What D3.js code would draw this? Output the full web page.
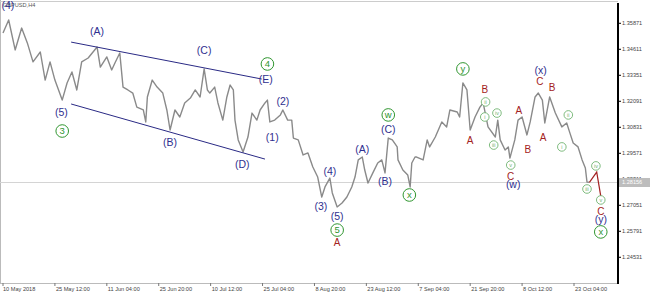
<!DOCTYPE html>
<html>
<head>
<meta charset="utf-8">
<script src="https://cdn.jsdelivr.net/npm/d3@7"></script>
<style>
  html, body { margin: 0; padding: 0; background: #fff; }
  svg { display: block; font-family: "Liberation Sans", Arial, sans-serif; }
  .tick-lab { font-size: 5.6px; fill: #444; }
</style>
</head>
<body>
<div id="chart"></div>
<script>
// GBPUSD H4 price path: [bar index, price]
const priceBars = [0,7,15,23,30,37,46,52,58,64,73,79,85,91,97,105,116,120,128,134,138,144,148,154,160,165,173,176,178,184,
  190,197,202,206,212,218,224,231,237,243,248,252,255,261,265,271,276,280,284,286,290,296,302,307,313,317,323,326,329,335,
  342,345,351,356,358,364,370,376,382,388,393,397,403,406,412,418,424,430,434,438,443,446,450,456,462,467,471,475,480,486,
  487,493,499,502,504,508,510,518,523,526,533,541,547,551,560,563,567,572,576,582,588,592,598,607,610,613,619,623,625,631,
  635,640,646,650,656,660,665,668,674,681,689,695,699,703,709,714,718,720,723];
const priceVals = [1.3540,1.3603,1.3458,1.3564,1.3492,1.3400,1.3448,1.3312,1.3400,1.3312,1.3215,1.3298,1.3351,1.3264,1.3400,1.3419,1.3472,1.3375,1.3424,1.3361,1.3395,1.3443,1.3278,1.3264,1.3249,1.3181,1.3167,1.3109,1.3230,1.3312,
  1.3278,1.3249,1.3167,1.3070,1.3167,1.3133,1.3201,1.3225,1.3264,1.3230,1.3366,1.3264,1.3249,1.3278,1.3201,1.3118,1.3230,1.3288,1.3264,1.3118,1.3022,1.2963,1.3036,1.3152,1.3118,1.3167,1.3201,1.3215,1.3109,1.3118,
  1.3143,1.3167,1.3118,1.3118,1.3031,1.3022,1.2949,1.2959,1.2891,1.2842,1.2745,1.2794,1.2837,1.2765,1.2697,1.2716,1.2745,1.2794,1.2842,1.2925,1.2939,1.2876,1.2813,1.2862,1.2910,1.2925,1.2862,1.3031,1.3022,1.2988,
  1.2925,1.2876,1.2852,1.2794,1.2910,1.2939,1.2939,1.2925,1.3022,1.2988,1.3036,1.3109,1.3085,1.3167,1.3157,1.3133,1.3298,1.3264,1.3070,1.3133,1.3181,1.3201,1.3085,1.3036,1.3118,1.3022,1.2973,1.2988,1.2934,1.3022,
  1.3118,1.3133,1.3046,1.3109,1.3230,1.3249,1.3215,1.3104,1.3230,1.3152,1.3085,1.3104,1.3055,1.3007,1.2988,1.2925,1.2886,1.2818,1.2816];

const currentPrice = 1.28156;

// projected wave (iv)-(v)
const projBars = [723, 732, 737];
const projVals = [1.2816, 1.2866, 1.2750];

// triangle channel: [bar0, price0, bar1, price1]
const channelLines = [
  [84, 1.3496, 319, 1.3317],
  [84, 1.3196, 323, 1.2929]
];

const yTicks = [1.35871, 1.34611, 1.33351, 1.32091, 1.30831, 1.29571, 1.28311, 1.27051, 1.25791, 1.24531];
const xTickBars = [0, 64, 128, 192, 256, 320, 384, 448, 512, 576, 640, 704];
const xTickLabels = ['10 May 2018', '25 May 12:00', '11 Jun 04:00', '25 Jun 20:00', '10 Jul 12:00', '25 Jul 04:00',
  '8 Aug 20:00', '23 Aug 12:00', '7 Sep 04:00', '21 Sep 20:00', '8 Oct 12:00', '23 Oct 04:00'];

// wave labels: [text, bar, price]
const navyLabels = [
  ['(4)', 6, 1.3676], ['(A)', 116, 1.3550], ['(C)', 248, 1.3458], ['(E)', 324, 1.3317], ['(5)', 72, 1.3157],
  ['(B)', 206, 1.3012], ['(D)', 295, 1.2905], ['(2)', 345, 1.3211], ['(1)', 332, 1.3036], ['(4)', 403, 1.2871],
  ['(3)', 392, 1.2702], ['(5)', 412, 1.2653], ['(A)', 443, 1.2978], ['(B)', 471, 1.2823], ['(C)', 475, 1.3075],
  ['(x)', 663, 1.3361], ['(w)', 629, 1.2808], ['(y)', 737, 1.2639]
];
const greenCircles = [
  ['3', 73, 1.3065], ['4', 326, 1.3390], ['5', 412, 1.2585], ['w', 475, 1.3143],
  ['x', 501, 1.2755], ['y', 567, 1.3366], ['x', 737, 1.2576]
];
const redLabels = [
  ['A', 412, 1.2527], ['A', 576, 1.3022], ['B', 594, 1.3269], ['C', 626, 1.2847], ['A', 636, 1.3167],
  ['B', 647, 1.2978], ['C', 662, 1.3307], ['B', 677, 1.3278], ['A', 666, 1.3036], ['C', 737, 1.2677]
];
const minorCircles = [
  ['ii', 595, 1.3206], ['i', 594, 1.3133], ['iv', 609, 1.3152], ['iii', 605, 1.2997], ['v', 626, 1.2900],
  ['ii', 697, 1.3143], ['i', 689, 1.2988], ['iii', 720, 1.2784], ['iv', 731, 1.2896], ['v', 737, 1.2731]
];

const W = 650, H = 294;
const plotR = 618, plotB = 283;
const NAVY = '#2f2f8f', GREEN = '#2f962f', RED = '#a32222', LGREEN = '#6fb36f';

const x = d3.scaleLinear().domain([0, 704]).range([3, 574]);
const y = d3.scaleLinear().domain([1.23285, 1.37]).range([plotB, 0]);

const svg = d3.select('#chart').append('svg').attr('width', W).attr('height', H);

// frame
svg.append('line').attr('x1', 0.5).attr('x2', 0.5).attr('y1', 0).attr('y2', plotB).attr('stroke', '#bbb');
svg.append('line').attr('x1', 0).attr('x2', plotR).attr('y1', 1.5).attr('y2', 1.5).attr('stroke', '#ccc');
svg.append('line').attr('x1', 0).attr('x2', plotR).attr('y1', plotB + 0.5).attr('y2', plotB + 0.5).attr('stroke', '#bbb');

// current price line
svg.append('line').attr('x1', 0).attr('x2', plotR).attr('y1', y(currentPrice)).attr('y2', y(currentPrice))
  .attr('stroke', '#d4d4d4').attr('stroke-width', 1);

// price
const pts = priceBars.map((b, i) => [b, priceVals[i]]);
svg.append('path').datum(pts)
  .attr('d', d3.line().x(d => x(d[0])).y(d => y(d[1])))
  .attr('fill', 'none').attr('stroke', '#8a8a8a').attr('stroke-width', 1.4).attr('stroke-linejoin', 'round');

// channel
svg.selectAll('line.chan').data(channelLines).join('line').attr('class', 'chan')
  .attr('x1', d => x(d[0])).attr('y1', d => y(d[1])).attr('x2', d => x(d[2])).attr('y2', d => y(d[3]))
  .attr('stroke', '#2a2a85').attr('stroke-width', 1);

// projection
svg.append('path').datum(projBars.map((b, i) => [b, projVals[i]]))
  .attr('d', d3.line().x(d => x(d[0])).y(d => y(d[1])))
  .attr('fill', 'none').attr('stroke', RED).attr('stroke-width', 1.2);

// labels
svg.selectAll('text.navy').data(navyLabels).join('text').attr('class', 'navy')
  .attr('x', d => x(d[1])).attr('y', d => y(d[2])).attr('dy', '0.36em')
  .attr('text-anchor', 'middle').attr('font-size', 10.5).attr('fill', NAVY).text(d => d[0]);

svg.selectAll('text.red').data(redLabels).join('text').attr('class', 'red')
  .attr('x', d => x(d[1])).attr('y', d => y(d[2])).attr('dy', '0.36em')
  .attr('text-anchor', 'middle').attr('font-size', 10).attr('fill', RED).text(d => d[0]);

const gc = svg.selectAll('g.gc').data(greenCircles).join('g').attr('class', 'gc')
  .attr('transform', d => `translate(${x(d[1])},${y(d[2])})`);
gc.append('circle').attr('r', 6.3).attr('fill', 'none').attr('stroke', GREEN).attr('stroke-width', 1);
gc.append('text').attr('text-anchor', 'middle').attr('dy', '0.35em').attr('font-size', 9.5)
  .attr('fill', GREEN).text(d => d[0]);

const mc = svg.selectAll('g.mc').data(minorCircles).join('g').attr('class', 'mc')
  .attr('transform', d => `translate(${x(d[1])},${y(d[2])})`);
mc.append('circle').attr('r', 4.3).attr('fill', '#fff').attr('stroke', LGREEN).attr('stroke-width', 0.9);
mc.append('text').attr('text-anchor', 'middle').attr('dy', '0.35em').attr('font-size', 5.5)
  .attr('fill', LGREEN).text(d => d[0]);

// title
svg.append('text').attr('x', 3).attr('y', 7).attr('font-size', 5.6).attr('fill', '#555').text('GBPUSD,H4');
svg.select('text.navy').raise();

// right axis
svg.append('line').attr('x1', plotR).attr('x2', plotR).attr('y1', 3).attr('y2', plotB + 1)
  .attr('stroke', '#000').attr('stroke-width', 2);
const ya = svg.append('g').attr('transform', `translate(${plotR},0)`);
ya.selectAll('line').data(yTicks).join('line')
  .attr('x1', 0).attr('x2', 3).attr('y1', d => y(d)).attr('y2', d => y(d)).attr('stroke', '#000');
ya.selectAll('text').data(yTicks).join('text').attr('class', 'tick-lab')
  .attr('x', 4).attr('y', d => y(d)).attr('dy', '0.35em').text(d => d.toFixed(5));

// current price tag
const tag = svg.append('g').attr('transform', `translate(${plotR + 1},${y(currentPrice)})`);
tag.append('rect').attr('x', 0).attr('y', -4.5).attr('width', 31).attr('height', 9).attr('fill', '#bdbdbd');
tag.append('text').attr('class', 'tick-lab').attr('x', 3).attr('dy', '0.35em').attr('fill', '#fff')
  .style('fill', '#fff').text(currentPrice.toFixed(5));

// bottom axis
const xa = svg.append('g').attr('transform', `translate(0,${plotB})`);
xa.selectAll('line').data(xTickBars).join('line')
  .attr('x1', d => x(d)).attr('x2', d => x(d)).attr('y1', 0).attr('y2', 3).attr('stroke', '#777');
xa.selectAll('text').data(xTickBars).join('text').attr('class', 'tick-lab')
  .attr('x', (d, i) => x(d) + (i === 0 ? 0 : 1)).attr('y', 8).text((d, i) => xTickLabels[i]);
</script>
</body>
</html>
